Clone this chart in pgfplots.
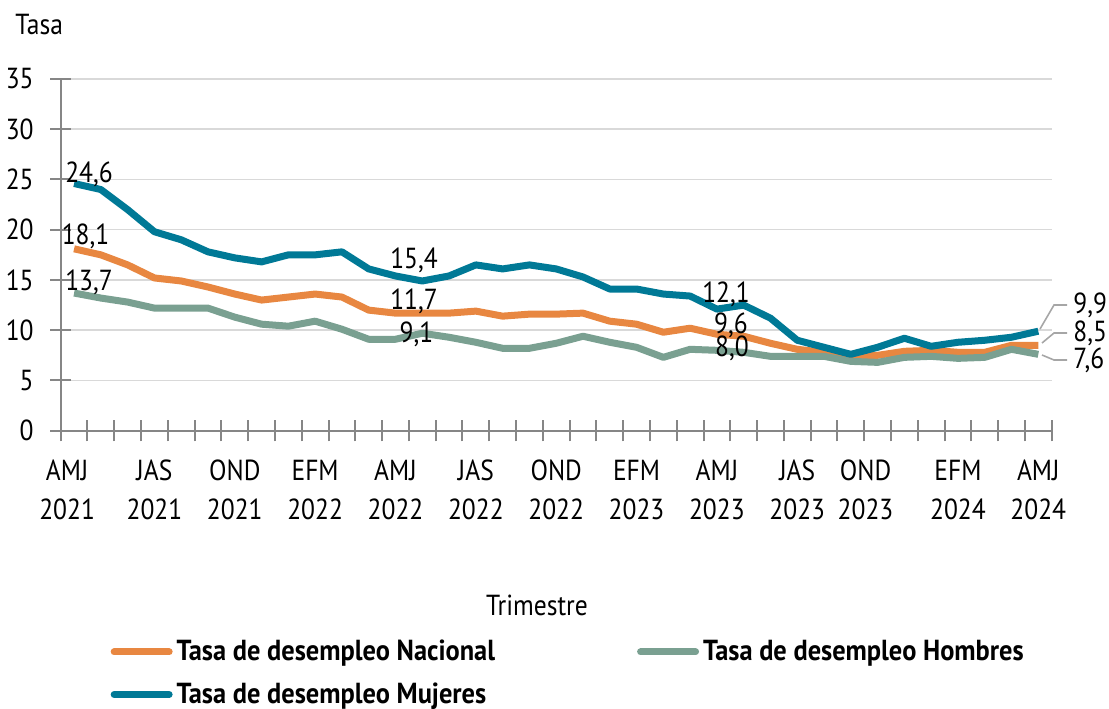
\documentclass[border=0pt]{standalone}
\usepackage{fontspec}
\setmainfont{PT Sans}[FakeStretch=0.88]
\newfontfamily\legfont{PT Sans}[FakeStretch=0.91]
\usepackage{pgfplots}
\pgfplotsset{compat=1.18}
\definecolor{cnac}{RGB}{232,135,65}
\definecolor{chom}{RGB}{122,160,145}
\definecolor{cmuj}{RGB}{0,121,150}
\definecolor{gridgray}{RGB}{217,217,217}
\definecolor{axisgray}{RGB}{134,134,134}
\definecolor{leadgray}{RGB}{166,166,166}
\pgfplotstableread{
i nac hom muj
0 18.1 13.7 24.6
1 17.5 13.2 24.0
2 16.5 12.8 22.0
3 15.2 12.2 19.8
4 14.9 12.2 19.0
5 14.3 12.2 17.8
6 13.6 11.3 17.2
7 13.0 10.6 16.8
8 13.3 10.4 17.5
9 13.6 10.9 17.5
10 13.3 10.1 17.8
11 12.0 9.1 16.1
12 11.7 9.1 15.4
13 11.7 9.7 14.9
14 11.7 9.3 15.4
15 11.9 8.8 16.5
16 11.4 8.2 16.1
17 11.6 8.2 16.5
18 11.6 8.7 16.1
19 11.7 9.4 15.3
20 10.9 8.8 14.1
21 10.6 8.3 14.1
22 9.8 7.3 13.6
23 10.2 8.1 13.4
24 9.6 8.0 12.1
25 9.4 7.8 12.5
26 8.7 7.4 11.2
27 8.1 7.4 9.0
28 7.8 7.4 8.3
29 7.4 6.9 7.6
30 7.5 6.8 8.3
31 7.9 7.3 9.2
32 8.0 7.4 8.4
33 7.8 7.2 8.8
34 7.8 7.3 9.0
35 8.5 8.1 9.3
36 8.5 7.6 9.9
}\datatable
\begin{document}
\begin{tikzpicture}[font=\fontsize{14.5}{19.5}\selectfont]
\useasboundingbox (0,0) rectangle (554.5pt,354pt);
\begin{axis}[
  scale only axis, width=495.5pt, height=175.85pt,
  at={(30.35pt,138.65pt)}, anchor=south west,
  xmin=-0.5, xmax=36.5, ymin=0, ymax=35,
  axis x line*=bottom, axis y line*=left,
  axis line style={draw=axisgray, line width=1pt},
  xtick={-0.26,3,6,9,12,15,18,21,24,27,29.55,33,36},
  xticklabels={{AMJ\\2021},{JAS\\2021},{OND\\2021},{EFM\\2022},{AMJ\\2022},{JAS\\2022},{OND\\2022},{EFM\\2023},{AMJ\\2023},{JAS\\2023},{OND\\2023},{EFM\\2024},{AMJ\\2024}},
  xticklabel style={align=center, yshift=-11pt},
  minor xtick={-0.5,0.5,...,36.5},
  ytick={0,5,...,35},
  minor ytick={0,5,...,35},
  yticklabel style={xshift=-10pt},
  tick align=center, major tick length=0pt, minor tick length=10.6pt,
  every tick/.style={draw=axisgray, line width=1pt},
  ymajorgrids, major grid style={draw=gridgray, line width=0.75pt},
  /pgf/number format/assume math mode=true,
  every axis plot/.append style={line width=3.5pt, line join=round},
  legend columns=2,
  legend cell align=left,
  legend image code/.code={\draw[#1, line cap=round] (0pt,0pt) -- (27.5pt,0pt);},
  legend style={draw=none, fill=none, inner sep=0pt,
    at={(axis description cs:0.05,-0.583)}, anchor=north west,
    font=\legfont\bfseries\fontsize{14.5}{17}\selectfont,
    /tikz/every even column/.append style={column sep=69pt},
    row sep=5.5pt},
]
\addplot[cnac] table[x=i, y=nac] {\datatable};
\addlegendentry{Tasa de desempleo Nacional}
\addplot[chom] table[x=i, y=hom] {\datatable};
\addlegendentry{Tasa de desempleo Hombres}
\addplot[cmuj] table[x=i, y=muj] {\datatable};
\addlegendentry{Tasa de desempleo Mujeres}
\end{axis}
% data labels
\node[anchor=base] at (44.5pt,262.5pt) {24,6};
\node[anchor=base] at (42.75pt,231.5pt) {18,1};
\node[anchor=base] at (44.5pt,208.5pt) {13,7};
\node[anchor=base] at (207pt,219.5pt) {15,4};
\node[anchor=base] at (207pt,199pt) {11,7};
\node[anchor=base] at (208.25pt,182.5pt) {9,1};
\node[anchor=base] at (363pt,202.5pt) {12,1};
\node[anchor=base] at (365.5pt,187pt) {9,6};
\node[anchor=base] at (366pt,175.5pt) {8,0};
\draw[leadgray, line width=0.8pt] (520pt,189.5pt) -- (527pt,201.5pt) -- (533.5pt,201.5pt);
\draw[leadgray, line width=0.8pt] (521pt,182.5pt) -- (527pt,187.5pt) -- (533.5pt,187.5pt);
\draw[leadgray, line width=0.8pt] (521pt,176.5pt) -- (527pt,174pt) -- (533.5pt,174pt);
\node[anchor=west, inner sep=0pt] at (536.5pt,201.5pt) {9,9};
\node[anchor=west, inner sep=0pt] at (536.5pt,187.5pt) {8,5};
\node[anchor=west, inner sep=0pt] at (536.5pt,174pt) {7,6};
\node[anchor=base west, inner sep=0pt] at (7.5pt,336.5pt) {Tasa};
\node[anchor=base, inner sep=0pt] at (268.5pt,46.5pt) {Trimestre};
\end{tikzpicture}
\end{document}
